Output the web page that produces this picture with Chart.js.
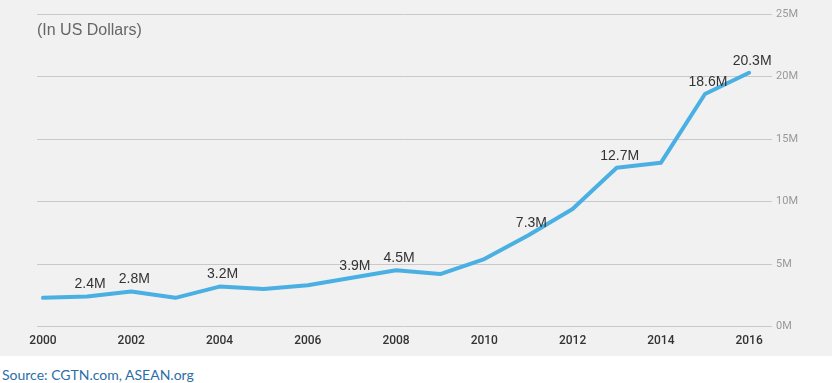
<!DOCTYPE html>
<html>
<head>
<meta charset="utf-8">
<script src="https://cdn.jsdelivr.net/npm/chart.js@4"></script>
<style>
  body { margin: 0; background: #fff; }
  .wrap { position: relative; width: 832px; height: 356px; background: #f1f1f1; }
  .source { font-family: Lato, "Open Sans", sans-serif; font-size: 14px; color: #2c6ea8; margin: 10px 0 0 2px; }
</style>
</head>
<body>
<div class="wrap"><canvas id="c"></canvas></div>
<div class="source">Source: CGTN.com, ASEAN.org</div>
<script>
// data
const years = [2000,2001,2002,2003,2004,2005,2006,2007,2008,2009,2010,2011,2012,2013,2014,2015,2016];
const values = [2.3,2.4,2.8,2.3,3.2,3.0,3.3,3.9,4.5,4.2,5.4,7.3,9.4,12.7,13.1,18.6,20.3];
const labeledYears = [2001,2002,2004,2007,2008,2011,2013,2015,2016];
const xTicks = [2000,2002,2004,2006,2008,2010,2012,2014,2016];
const yTicks = [0,5,10,15,20,25];

// point labels + subtitle
const labelPlugin = {
  id: 'pointLabels',
  afterDatasetsDraw(chart) {
    const ctx = chart.ctx;
    const meta = chart.getDatasetMeta(0);
    ctx.save();
    ctx.font = '14px "Liberation Sans", Arial, sans-serif';
    ctx.fillStyle = '#333';
    ctx.textAlign = 'center';
    ctx.textBaseline = 'middle';
    meta.data.forEach((pt, i) => {
      if (labeledYears.includes(years[i])) {
        ctx.fillText(values[i] + 'M', pt.x + 3, pt.y - 12);
      }
    });
    // "(In US Dollars)"
    ctx.font = '16px "Liberation Sans", Arial, sans-serif';
    ctx.fillStyle = '#666';
    ctx.textAlign = 'left';
    ctx.fillText('(In US Dollars)', chart.chartArea.left, 31);
    ctx.restore();
  }
};

new Chart(document.getElementById('c'), {
  type: 'line',
  data: {
    datasets: [{
      data: years.map((y, i) => ({x: y, y: values[i]})),
      borderColor: '#4aafe2',
      borderWidth: 4,
      pointRadius: 0,
      tension: 0,
      borderJoinStyle: 'round',
      borderCapStyle: 'round',
    }]
  },
  options: {
    responsive: true,
    maintainAspectRatio: false,
    animation: false,
    layout: { padding: { left: 37, top: 14, right: 30, bottom: 1 } },
    plugins: { legend: { display: false }, tooltip: { enabled: false } },
    scales: {
      x: {
        type: 'linear',
        min: 1999.864,
        max: 2016.52,
        afterBuildTicks: axis => { axis.ticks = xTicks.map(v => ({value: v})); },
        grid: { display: false, drawTicks: false },
        border: { display: false },
        ticks: {
          padding: 7,
          color: '#333',
          font: { family: 'Roboto, sans-serif', size: 12, weight: '500' },
          callback: v => String(v),
          maxRotation: 0,
        }
      },
      y: {
        position: 'right',
        min: 0,
        max: 25,
        afterBuildTicks: axis => { axis.ticks = yTicks.map(v => ({value: v})); },
        grid: { color: '#c9c9c9', drawTicks: false },
        border: { display: false },
        ticks: {
          padding: 4,
          color: '#999',
          font: { family: 'Roboto, sans-serif', size: 11 },
          callback: v => v + 'M',
        }
      }
    }
  },
  plugins: [labelPlugin]
});
</script>
</body>
</html>
